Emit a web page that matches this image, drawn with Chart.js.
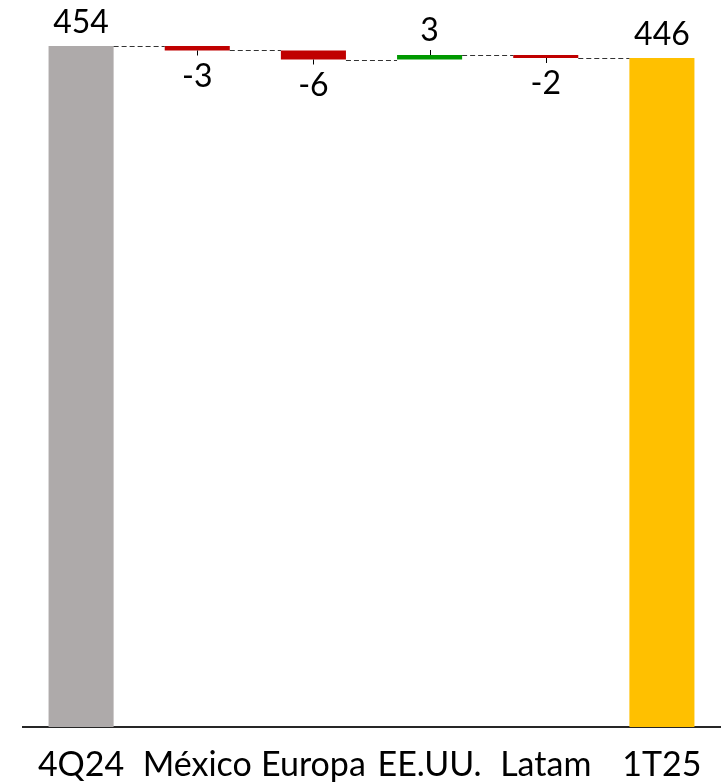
<!DOCTYPE html>
<html>
<head>
<meta charset="utf-8">
<script src="https://cdn.jsdelivr.net/npm/chart.js@4/dist/chart.umd.min.js"></script>
<style>
html,body{margin:0;padding:0;background:#fff;}
#wrap{width:726px;height:783px;}
</style>
</head>
<body>
<div id="wrap"><canvas id="c" width="726" height="783"></canvas></div>
<script>
const categories = ['4Q24', 'México', 'Europa', 'EE.UU.', 'Latam', '1T25'];
const startValue = 454;
const deltas = [-3, -6, 3, -2];
const endValue = 446;
const colors = ['#AEAAAA', '#C00000', '#C00000', '#009900', '#C00000', '#FFC000'];

// Build floating ranges
const ranges = [[0, startValue]];
const labels = [String(startValue)];
const runTotals = [startValue];
let run = startValue;
deltas.forEach(d => {
  const next = run + d;
  ranges.push([Math.min(run, next), Math.max(run, next)]);
  labels.push(String(d));
  run = next;
  runTotals.push(run);
});
ranges.push([0, endValue]);
labels.push(String(endValue));
runTotals.push(endValue);

const FONT = 'Lato, "Open Sans", sans-serif';

const annot = {
  id: 'annot',
  afterDatasetsDraw(chart) {
    const ctx = chart.ctx;
    const meta = chart.getDatasetMeta(0);
    const y = chart.scales.y;
    ctx.save();
    // connectors
    ctx.strokeStyle = '#333';
    ctx.lineWidth = 1;
    ctx.setLineDash([5, 3]);
    for (let i = 0; i < meta.data.length - 1; i++) {
      const a = meta.data[i], b = meta.data[i + 1];
      const yy = Math.round(y.getPixelForValue(runTotals[i])) + 0.5;
      ctx.beginPath();
      ctx.moveTo(a.x + a.width / 2, yy);
      ctx.lineTo(b.x - b.width / 2, yy);
      ctx.stroke();
    }
    ctx.setLineDash([]);
    // labels
    ctx.fillStyle = '#000';
    ctx.font = '32px ' + FONT;
    ctx.textAlign = 'center';
    ctx.textBaseline = 'alphabetic';
    meta.data.forEach((bar, i) => {
      const topPx = y.getPixelForValue(ranges[i][1]);
      const botPx = y.getPixelForValue(ranges[i][0]);
      const isTotal = (i === 0 || i === meta.data.length - 1);
      if (isTotal) {
        ctx.fillText(labels[i], bar.x, topPx - 13);
      } else {
        const d = deltas[i - 1];
        const cx = Math.round(bar.x) + 0.5;
        ctx.strokeStyle = '#000';
        ctx.lineWidth = 1;
        ctx.beginPath();
        if (d >= 0) {
          ctx.moveTo(cx, topPx);
          ctx.lineTo(cx, topPx - 5);
          ctx.stroke();
          ctx.fillText(labels[i], bar.x, topPx - 14);
        } else {
          ctx.moveTo(cx, botPx);
          ctx.lineTo(cx, botPx + 5);
          ctx.stroke();
          ctx.fillText(labels[i], bar.x, botPx + 36);
        }
      }
    });
    ctx.restore();
  }
};

new Chart(document.getElementById('c'), {
  type: 'bar',
  data: {
    labels: categories,
    datasets: [{
      data: ranges,
      backgroundColor: colors,
      borderWidth: 0,
      borderSkipped: false,
      categoryPercentage: 1,
      barPercentage: 0.56
    }]
  },
  options: {
    responsive: false,
    animation: false,
    devicePixelRatio: 1,
    layout: { padding: { top: 16, left: 23, right: 6, bottom: 0 } },
    plugins: { legend: { display: false }, tooltip: { enabled: false } },
    scales: {
      x: {
        grid: { display: false, drawTicks: false },
        border: { display: true, color: '#262626', width: 2 },
        afterFit(scale) { scale.height = 56; },
        ticks: {
          color: '#000',
          padding: 18,
          font: { family: FONT, size: 34, lineHeight: 1.2 },
          maxRotation: 0,
          autoSkip: false
        }
      },
      y: {
        display: false,
        min: 0,
        max: 474
      }
    }
  },
  plugins: [annot]
});
</script>
</body>
</html>
